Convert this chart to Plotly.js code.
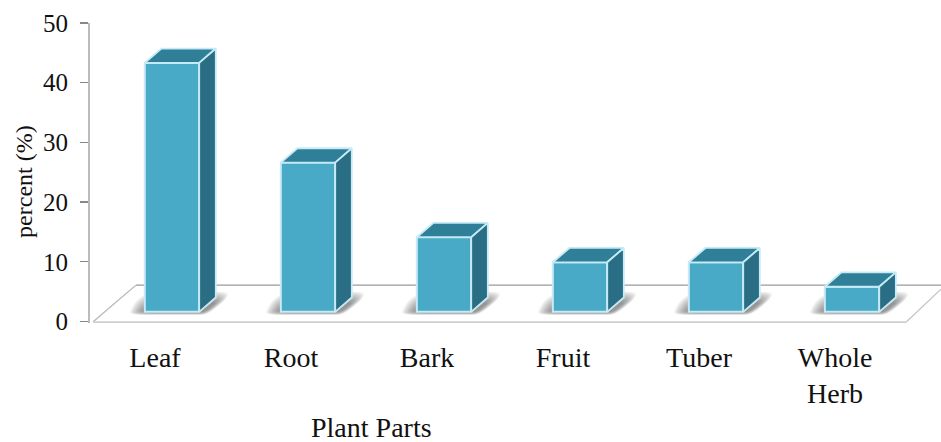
<!DOCTYPE html>
<html><head><meta charset="utf-8">
<script src="https://cdn.plot.ly/plotly-3.0.1.min.js"></script>
<style>html,body{margin:0;padding:0;background:#fff}#c{width:941px;height:442px}</style>
</head><body><div id="c"></div>
<script>
const categories = ["Leaf","Root","Bark","Fruit","Tuber","Whole<br>Herb"];
const percent = [41.7,25,12.5,8.3,8.3,4.2];
const yTicks = [0,10,20,30,40,50];

const FONT = "'Liberation Serif','Times New Roman',serif";
const pos = categories.map((_, i) => i);
const BAR_W = 0.4, DX = 0.122, DY = 2.4, FLOOR = 1.62;
const FRONT = '#48aac7', TOP = '#2f7f99', SIDE = '#2a6e85', EDGE = '#c6ebf6';

const poly = (xs, ys, fill, name) => ({
  type:'scatter', mode:'lines', x:xs, y:ys, fill:'toself', fillcolor:fill,
  line:{color:EDGE,width:1.8}, hoverinfo:'skip', showlegend:false, name:name, cliponaxis:false
});

const traces = [{
  type:'bar', x:pos, y:percent, base:pos.map(()=>FLOOR), width:BAR_W,
  marker:{color:FRONT,line:{color:EDGE,width:2}}, showlegend:false
}];
pos.forEach((p,i)=>{
  const l=p-BAR_W/2, r=p+BAR_W/2, b=FLOOR, t=FLOOR+percent[i];
  traces.push(poly([l,l+DX,r+DX,r,l],[t,t+DY,t+DY,t,t],TOP,'top'));
  traces.push(poly([r,r+DX,r+DX,r,r],[t,t+DY,b+DY,b,t],SIDE,'side'));
});

const shapes = [
  {type:'line',layer:'below',x0:-0.265,x1:5.654,y0:6.1,y1:6.1,line:{color:'#9a9a9a',width:1.2}},
  {type:'line',layer:'below',x0:-0.58,x1:-0.265,y0:-0.05,y1:6.1,line:{color:'#b5b5b5',width:1.2}},
  {type:'line',layer:'below',x0:-0.58,x1:5.40,y0:-0.15,y1:-0.15,line:{color:'#cfcfcf',width:2.2}},
  {type:'line',layer:'below',x0:5.40,x1:5.654,y0:-0.05,y1:5.4,line:{color:'#c4c4c4',width:1.2}}
];
// soft floor shadow: stacked translucent skewed outlines, tightening towards each bar's foot
pos.forEach(p=>{
  for(let k=0;k<12;k++){
    const g=k/11;
    const lx=p-0.31+0.10*g, rx=p+0.22-0.03*g, y0=1.1+0.4*g, y1=5.0-1.6*g, sk=0.24-0.08*g;
    const d=`M${lx},${y0+0.4} Q${lx},${y0} ${lx+0.1},${y0} L${rx},${y0} Q${rx+0.05},${y0} ${rx+sk*0.6},${(y0+y1)/2} `+
            `Q${rx+sk},${y1} ${rx+sk-0.1},${y1} L${lx+0.22},${y1} Q${lx+0.05},${y1} ${lx},${y0+0.4} Z`;
    shapes.push({type:'path',layer:'below',line:{width:0},fillcolor:'rgba(70,70,70,0.065)',path:d});
  }
});

const annotations = [
  {text:'Plant Parts',xref:'paper',yref:'paper',x:(371-90)/851,y:-(427.5-323.2)/300.2,showarrow:false,
   font:{family:FONT,size:28,color:'#111'},xanchor:'center',yanchor:'middle'},
  {text:'percent (%)',xref:'paper',yref:'paper',x:-(90-24)/851,y:(323.2-182)/300.2,showarrow:false,textangle:-90,
   font:{family:FONT,size:24,color:'#111'},xanchor:'center',yanchor:'middle'}
];

const layout = {
  width:941,height:442,paper_bgcolor:'#fff',plot_bgcolor:'#fff',
  margin:{l:90,r:0,t:23,b:118.8,pad:0},
  showlegend:false,shapes,annotations,
  font:{family:FONT,color:'#111'},
  xaxis:{range:[-0.603,5.654],tickmode:'array',tickvals:pos.map(p=>p-0.125),ticktext:categories,
    ticks:'outside',ticklen:9,tickcolor:'rgba(0,0,0,0)',showgrid:false,zeroline:false,showline:false,
    tickfont:{family:FONT,size:28,color:'#111'},fixedrange:true},
  yaxis:{range:[-0.25,50],tickmode:'array',tickvals:yTicks,ticks:'outside',ticklen:8,tickcolor:'#888',tickwidth:1.3,
    showline:true,linecolor:'#bbb',linewidth:2,showgrid:false,zeroline:false,ticklabelstandoff:7,
    tickfont:{family:FONT,size:25,color:'#111'},fixedrange:true}
};
Plotly.newPlot('c',traces,layout,{displayModeBar:false,staticPlot:true});
</script></body></html>
